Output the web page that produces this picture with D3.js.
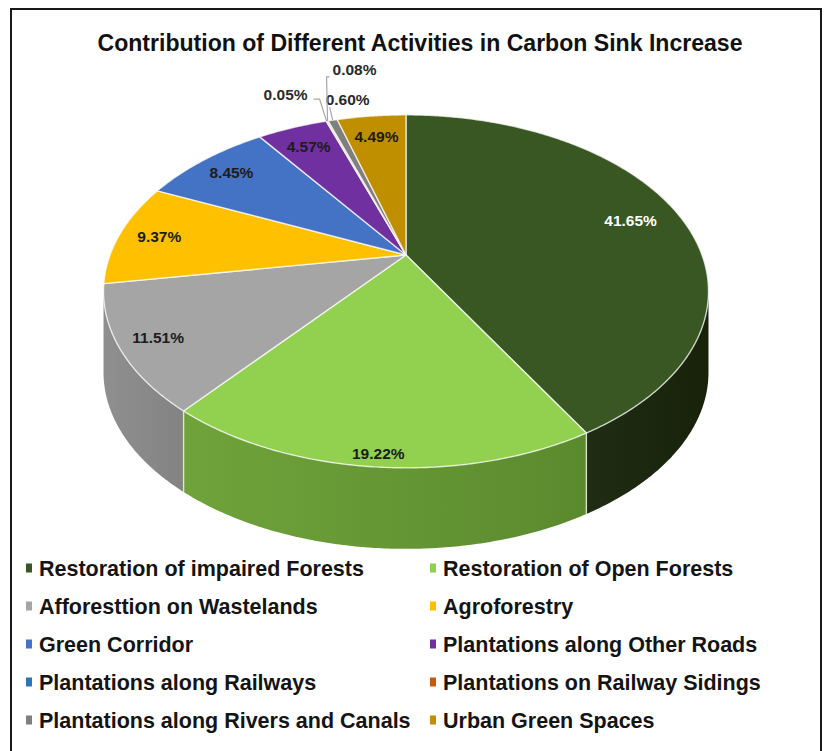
<!DOCTYPE html>
<html>
<head>
<meta charset="utf-8">
<script src="https://cdn.jsdelivr.net/npm/d3@7"></script>
<style>
  html, body { margin: 0; padding: 0; background: #ffffff; }
  svg { display: block; font-family: "Liberation Sans", Arial, sans-serif; }
</style>
</head>
<body>
<svg id="chart" width="824" height="751"></svg>
<script>
// ---- data ----
const title = "Contribution of Different Activities in Carbon Sink Increase";
const categories = [
  "Restoration of impaired Forests",
  "Restoration of Open Forests",
  "Afforesttion on Wastelands",
  "Agroforestry",
  "Green Corridor",
  "Plantations along Other Roads",
  "Plantations along Railways",
  "Plantations on Railway Sidings",
  "Plantations along Rivers and Canals",
  "Urban Green Spaces"
];
const values = [41.65, 19.22, 11.51, 9.37, 8.45, 4.57, 0.05, 0.08, 0.60, 4.49];
const valueLabels = values.map(v => v.toFixed(2) + "%");

// ---- styles ----
const colors = ["#385723", "#92d050", "#a5a5a5", "#ffc000", "#4472c4",
                "#7030a0", "#2e75b6", "#c55a11", "#7f7f7f", "#bf8f00"];
const sideTones = {
  0: ["#1f2d13", "#172209"],
  1: ["#70a33b", "#5b8a2e"],
  2: ["#8f8f8f", "#838383"]
};
const labelRadius = [0.82, 0.95, 0.88, 0.86, 0.85, 0.835, null, null, null, 0.83];
// callout labels for the thin slices: leader elbow + label centre, relative to the rim point
const callouts = {
  6: { path: [[-7, -22], [-13, -22]], label: [-41, -27] },
  7: { path: [[-1, -44], [2, -44]], label: [27, -51] },
  8: { path: [[-3, -13]], label: [15, -21] }
};

const svg = d3.select("#chart");

// frame
svg.append("rect")
  .attr("x", 11).attr("y", 9).attr("width", 810).attr("height", 780)
  .attr("fill", "none").attr("stroke", "#1a1a1a").attr("stroke-width", 2);

// title (slightly condensed bold face)
svg.append("text")
  .attr("x", 420).attr("y", 51)
  .attr("text-anchor", "middle")
  .attr("font-size", 24).attr("font-weight", "bold").attr("fill", "#111")
  .attr("textLength", 645).attr("lengthAdjust", "spacingAndGlyphs")
  .text(title);

// ---- tilted pie projection ----
const cx = 406, cy = 255;          // centre of the disc on screen
const rx = 296, ry = 169;          // half axes of the disc
const persp = 0.206;               // perspective strength (front larger than back)
const depth = 81;                  // thickness of the disc

function project(theta, r) {
  const u = r * Math.sin(theta), v = -r * Math.cos(theta);
  const d = 1 - persp * v;
  return [cx + rx * u / d, cy + ry * v / d];
}
function rim(a0, a1, r = 1) {
  const n = Math.max(2, Math.ceil((a1 - a0) / (Math.PI / 360)));
  return d3.range(n + 1).map(i => project(a0 + (a1 - a0) * i / n, r));
}

const pie = d3.pie().sort(null).value(d => d).startAngle(0).endAngle(2 * Math.PI);
const arcs = pie(values);
const line = d3.line();

const defs = svg.append("defs");
const sideG = svg.append("g");
const topG = svg.append("g");
const seamG = svg.append("g");

// visible outer wall spans from the right silhouette through the front to the left one
const visLo = Math.acos(-persp), visHi = 2 * Math.PI - visLo;

arcs.forEach((a, i) => {
  const s0 = Math.max(a.startAngle, visLo), s1 = Math.min(a.endAngle, visHi);
  if (s1 <= s0) return;
  const top = rim(s0, s1);
  const bottom = top.map(p => [p[0], p[1] + depth]).reverse();
  const xs = top.map(p => p[0]);
  const tones = sideTones[i] ||
    [d3.color(colors[i]).darker(0.8).formatHex(), d3.color(colors[i]).darker(1.2).formatHex()];
  const gid = "side" + i;
  const g = defs.append("linearGradient").attr("id", gid)
    .attr("gradientUnits", "userSpaceOnUse")
    .attr("x1", d3.min(xs)).attr("x2", d3.max(xs)).attr("y1", 0).attr("y2", 0);
  g.append("stop").attr("offset", 0).attr("stop-color", tones[0]);
  g.append("stop").attr("offset", 1).attr("stop-color", tones[1]);
  sideG.append("path")
    .attr("d", line(top.concat(bottom)) + "Z")
    .attr("fill", `url(#${gid})`);
});

// seams on the wall at slice boundaries
arcs.forEach(a => {
  const t = a.startAngle;
  if (t > visLo && t < visHi) {
    const p = project(t, 1);
    seamG.append("line")
      .attr("x1", p[0]).attr("y1", p[1]).attr("x2", p[0]).attr("y2", p[1] + depth)
      .attr("stroke", "rgba(235,240,225,0.85)").attr("stroke-width", 1.4);
  }
});

// top faces
arcs.forEach((a, i) => {
  const pts = [project(0, 0)].concat(rim(a.startAngle, a.endAngle));
  topG.append("path")
    .attr("d", line(pts) + "Z")
    .attr("fill", colors[i])
    .attr("stroke", "rgba(255,255,255,0.72)")
    .attr("stroke-width", 1.4)
    .attr("stroke-linejoin", "round");
});

// value labels
const labelG = svg.append("g")
  .attr("font-size", 15.5).attr("font-weight", "bold").attr("text-anchor", "middle");

arcs.forEach((a, i) => {
  const mid = (a.startAngle + a.endAngle) / 2;
  if (labelRadius[i] != null) {
    const p = project(mid, labelRadius[i]);
    labelG.append("text")
      .attr("x", p[0]).attr("y", p[1]).attr("dy", "0.36em")
      .attr("fill", i === 0 ? "#ffffff" : "#1c1c1c")
      .text(valueLabels[i]);
  } else {
    const c = callouts[i];
    const r0 = project(mid, 1);
    const pts = [r0].concat(c.path.map(d => [r0[0] + d[0], r0[1] + d[1]]));
    svg.append("path")
      .attr("d", line(pts))
      .attr("fill", "none").attr("stroke", "#a6a6a6").attr("stroke-width", 1.2);
    labelG.append("text")
      .attr("x", r0[0] + c.label[0]).attr("y", r0[1] + c.label[1]).attr("dy", "0.36em")
      .attr("fill", "#2a2a2a")
      .text(valueLabels[i]);
  }
});

// legend: two columns, row-major
const legend = svg.append("g").attr("font-size", 21.5).attr("font-weight", "bold");
const colX = [26, 430], rowY0 = 568, rowStep = 38;
categories.forEach((name, i) => {
  const col = i % 2, row = Math.floor(i / 2);
  const x = colX[col], y = rowY0 + row * rowStep;
  legend.append("rect")
    .attr("x", x).attr("y", y - 4.5).attr("width", 6).attr("height", 9)
    .attr("fill", colors[i]);
  legend.append("text")
    .attr("x", x + 13).attr("y", y).attr("dy", "0.36em")
    .attr("fill", "#141414")
    .text(name);
});
</script>
</body>
</html>
